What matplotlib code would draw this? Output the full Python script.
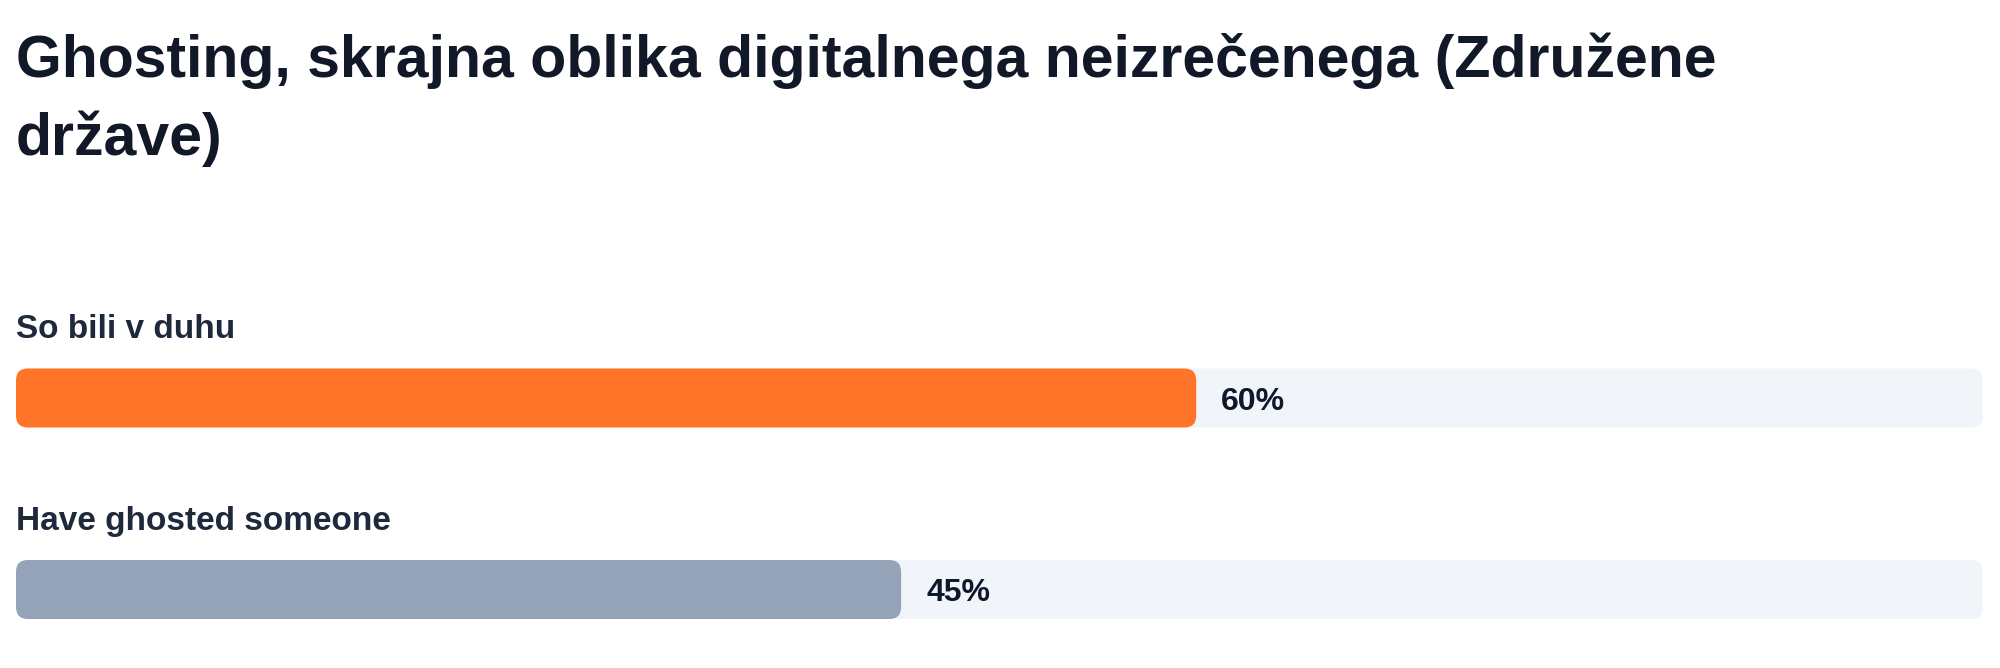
import matplotlib
matplotlib.use('Agg')
import matplotlib.pyplot as plt
from matplotlib.patches import FancyBboxPatch

plt.rcParams['font.family'] = ['Liberation Sans', 'DejaVu Sans']

title_lines = ['Ghosting, skrajna oblika digitalnega neizrečenega (Združene', 'države)']
categories = ['So bili v duhu', 'Have ghosted someone']
values = [60, 45]
bar_colors = ['#ff7426', '#94a3b8']

W, H = 2000, 668
left, track_w = 16, 1967
px_per_unit = track_w / 100.0

fig = plt.figure(figsize=(W / 100, H / 100), dpi=100)
fig.patch.set_facecolor('white')
ax = fig.add_axes([left / W, 0, track_w / W, 1])
ax.set_xlim(0, 100)
ax.set_ylim(H, 0)
ax.axis('off')

# title, two lines as in the reference
for i, line in enumerate(title_lines):
    ax.text(0, 77 + i * 78, line, fontsize=42.5, fontweight='bold',
            color='#111827', va='baseline', ha='left')

bar_h = 59
row_top = [368.5, 560]
radius = 12


def rounded(x, y, w, h, color):
    p = FancyBboxPatch((x, y), w, h,
                       boxstyle='round,pad=0,rounding_size=%f' % (radius / px_per_unit),
                       mutation_aspect=px_per_unit,
                       facecolor=color, edgecolor='none', linewidth=0)
    ax.add_patch(p)


for i, (cat, val) in enumerate(zip(categories, values)):
    top = row_top[i]
    # category label above the bar
    ax.text(0, top - 30, cat, fontsize=24, fontweight='bold',
            color='#1e293b', va='baseline', ha='left')
    # background track
    rounded(0, top, 100, bar_h, '#f1f5f9')
    # value bar
    rounded(0, top, val, bar_h, bar_colors[i])
    ax.text(val + 25 / px_per_unit, top + bar_h / 2 + 11.5, '%d%%' % val,
            fontsize=23, fontweight='bold', color='#0f172a',
            va='baseline', ha='left')

fig.savefig('out.png', dpi=100, facecolor='white')
